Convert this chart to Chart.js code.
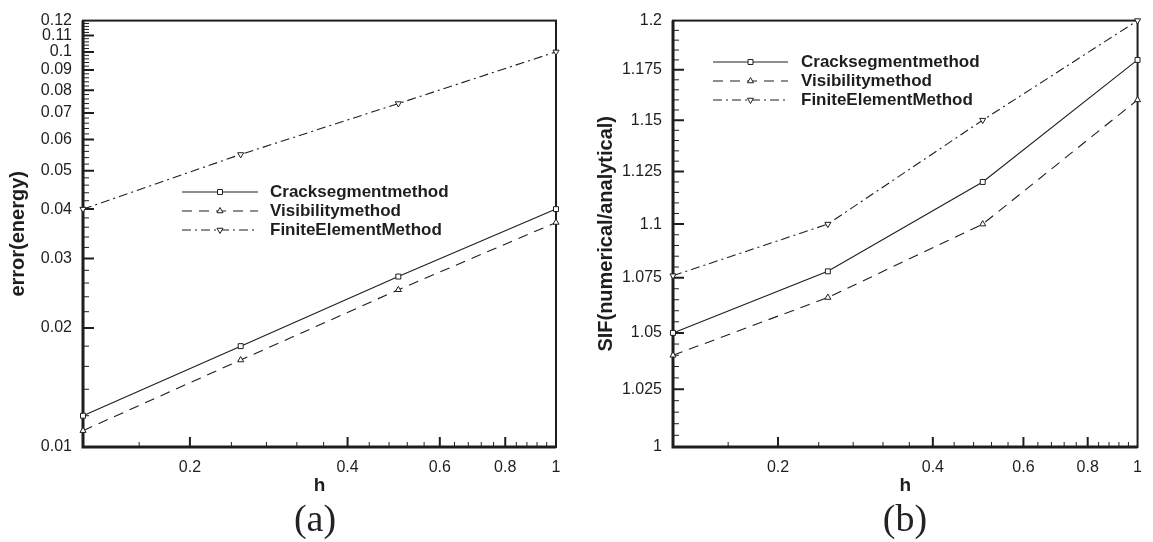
<!DOCTYPE html>
<html><head><meta charset="utf-8">
<script src="https://cdn.jsdelivr.net/npm/chart.js@4/dist/chart.umd.min.js"></script>
<style>
html,body{margin:0;padding:0;background:#fff;}
#wrap{position:relative;width:1153px;height:542px;overflow:hidden;background:#fff;}
canvas{position:absolute;top:0;}
#c1{left:0;} #c2{left:576px;}
.cap{position:absolute;font-family:"Liberation Serif","DejaVu Serif",serif;font-size:38px;color:#222;transform:translate(-50%,-50%);line-height:1;white-space:nowrap;}
</style></head><body>
<div id="wrap">
<canvas id="c1" width="576" height="542"></canvas>
<canvas id="c2" width="577" height="542"></canvas>
<div class="cap" style="left:315px;top:518px;">(a)</div>
<div class="cap" style="left:905px;top:518px;">(b)</div>
</div>
<script>
// ---------- data ----------
const h = [0.125, 0.25, 0.5, 1];
const seriesNames = ['Cracksegmentmethod', 'Visibilitymethod', 'FiniteElementMethod'];
const errCrack = [0.012, 0.018, 0.027, 0.040];
const errVis   = [0.011, 0.0166, 0.025, 0.037];
const errFem   = [0.040, 0.055, 0.074, 0.100];
const sifCrack = [1.05, 1.078, 1.12, 1.18];
const sifVis   = [1.04, 1.066, 1.10, 1.16];
const sifFem   = [1.076, 1.10, 1.15, 1.20];
const hTicks   = [0.2, 0.4, 0.6, 0.8, 1];
const errTicks = [0.01, 0.02, 0.03, 0.04, 0.05, 0.06, 0.07, 0.08, 0.09, 0.1, 0.11, 0.12];
const sifTicks = [1, 1.025, 1.05, 1.075, 1.1, 1.125, 1.15, 1.175, 1.2];
const xTitle = 'h';
const errTitle = 'error(energy)';
const sifTitle = 'SIF(numerical/analytical)';

// ---------- style ----------
const INK = '#1e1e1e';
const FONT = '"Liberation Sans", Arial, Helvetica, sans-serif';
Chart.defaults.font.family = FONT;
Chart.defaults.color = INK;

const styles = [
  { dash: [], point: 'rect', rot: 0 },
  { dash: [10, 7], point: 'triangle', rot: 0 },
  { dash: [9, 4, 2, 4], point: 'triangle', rot: 180 }
];

function minorTicks(step, from, to, majors) {
  const out = [];
  const n = Math.round((to - from) / step);
  for (let k = 0; k <= n; k++) {
    const v = +(from + k * step).toFixed(6);
    if (!majors.some(m => Math.abs(m - v) < 1e-9)) out.push(v);
  }
  return out;
}
const hMinor = minorTicks(0.04, 0.16, 1.0, hTicks);
const errMinor = minorTicks(0.002, 0.01, 0.12, errTicks);
const sifMinor = minorTicks(0.005, 1, 1.2, sifTicks);

function ds(i, data) {
  return {
    label: seriesNames[i],
    data: h.map((x, j) => ({ x: x, y: data[j] })),
    borderColor: INK, borderWidth: 1.1, borderDash: styles[i].dash,
    pointStyle: styles[i].point, pointRotation: styles[i].rot,
    pointRadius: 3.5, pointBackgroundColor: '#fff', pointBorderColor: INK, pointBorderWidth: 1,
    fill: false, tension: 0, clip: false
  };
}

function drawMarker(ctx, style, rot, x, y, r) {
  if (Chart.helpers && Chart.helpers.drawPoint) {
    Chart.helpers.drawPoint(ctx, { pointStyle: style, rotation: rot, radius: r, borderWidth: 1 }, x, y);
    return;
  }
  ctx.beginPath();
  if (style === 'rect') { const s = r * Math.SQRT1_2; ctx.rect(x - s, y - s, 2 * s, 2 * s); }
  else { const sg = rot ? -1 : 1; ctx.moveTo(x, y - sg * r); ctx.lineTo(x + r * 0.866, y + sg * r / 2); ctx.lineTo(x - r * 0.866, y + sg * r / 2); ctx.closePath(); }
  ctx.fill(); ctx.stroke();
}

function framePlugin(xMaj, xMin, yMaj, yMin) {
  return {
    id: 'frame',
    beforeDatasetsDraw(chart) {
      const { ctx, chartArea: a, scales: { x, y } } = chart;
      ctx.save();
      ctx.strokeStyle = INK;
      const tick = (vals, len, lw) => {
        ctx.lineWidth = lw; ctx.beginPath();
        vals.forEach(v => { const p = x.getPixelForValue(v); if (p > a.left + 1 && p < a.right - 1) { ctx.moveTo(p, a.bottom); ctx.lineTo(p, a.bottom - len); } });
        ctx.stroke();
      };
      const ytick = (vals, len, lw) => {
        ctx.lineWidth = lw; ctx.beginPath();
        vals.forEach(v => { const p = y.getPixelForValue(v); if (p > a.top + 1 && p < a.bottom - 1) { ctx.moveTo(a.left, p); ctx.lineTo(a.left + len, p); } });
        ctx.stroke();
      };
      tick(xMin, 5, 1); tick(xMaj, 10, 2);
      ytick(yMin, 6, 1); ytick(yMaj, 11, 2);
      ctx.lineWidth = 2;
      ctx.strokeRect(a.left, a.top, a.right - a.left, a.bottom - a.top);
      ctx.lineWidth = 3;
      ctx.beginPath(); ctx.moveTo(a.left, a.top); ctx.lineTo(a.left, a.bottom); ctx.lineTo(a.right, a.bottom); ctx.stroke();
      ctx.restore();
    }
  };
}

function legendPlugin(lx0, lx1, tx, y0, dy) {
  return {
    id: 'mylegend',
    afterDatasetsDraw(chart) {
      const ctx = chart.ctx;
      ctx.save();
      chart.data.datasets.forEach((d, i) => {
        const yy = y0 + i * dy;
        ctx.strokeStyle = INK; ctx.lineWidth = 1.1; ctx.setLineDash(styles[i].dash);
        ctx.beginPath(); ctx.moveTo(lx0, yy); ctx.lineTo(lx1, yy); ctx.stroke();
        ctx.setLineDash([]);
        ctx.fillStyle = '#fff'; ctx.lineWidth = 1;
        drawMarker(ctx, styles[i].point, styles[i].rot, (lx0 + lx1) / 2, yy, 3.5);
        ctx.fillStyle = INK;
        ctx.font = 'bold 17px ' + FONT;
        ctx.textBaseline = 'middle'; ctx.textAlign = 'left';
        ctx.fillText(d.label, tx, yy);
      });
      ctx.restore();
    }
  };
}

function makeChart(id, sets, yMinV, yMaxV, yTicks, yMinor, yTitle, padRight, yWidth, yTitlePad, legendPos) {
  return new Chart(document.getElementById(id), {
    type: 'line',
    data: { datasets: sets },
    options: {
      responsive: false, animation: false, events: [],
      layout: { padding: { left: 0, right: padRight, top: 15, bottom: 0 } },
      plugins: { legend: { display: false }, tooltip: { enabled: false } },
      scales: {
        x: {
          type: 'logarithmic', min: 0.125, max: 1,
          afterBuildTicks: s => { s.ticks = hTicks.map(v => ({ value: v })); },
          afterFit: s => { s.height = 95; },
          grid: { display: false, drawTicks: false }, border: { display: false },
          ticks: { autoSkip: false, maxRotation: 0, minRotation: 0, padding: 11, color: INK, font: { size: 16 }, callback: v => String(v) },
          title: { display: true, text: xTitle, color: INK, font: { size: 19, weight: 'bold' }, padding: { top: 0, bottom: 45 } }
        },
        y: {
          type: 'logarithmic', min: yMinV, max: yMaxV,
          afterBuildTicks: s => { s.ticks = yTicks.map(v => ({ value: v })); },
          afterFit: s => { s.width = yWidth; },
          grid: { display: false, drawTicks: false }, border: { display: false },
          ticks: { autoSkip: false, padding: 11, color: INK, font: { size: 16 }, callback: v => String(v) },
          title: { display: true, text: yTitle, color: INK, font: { size: 20, weight: 'bold' }, padding: { top: yTitlePad, bottom: 0 } }
        }
      }
    },
    plugins: [framePlugin(hTicks, hMinor, yTicks, yMinor), legendPlugin.apply(null, legendPos)]
  });
}

makeChart('c1', [ds(0, errCrack), ds(1, errVis), ds(2, errFem)], 0.01, 0.12, errTicks, errMinor, errTitle, 20, 83, 6, [182, 258, 270, 192, 19]);
makeChart('c2', [ds(0, sifCrack), ds(1, sifVis), ds(2, sifFem)], 1, 1.2, sifTicks, sifMinor, sifTitle, 7, 97, 18, [713 - 576, 788 - 576, 801 - 576, 62, 19]);
</script>
</body></html>
